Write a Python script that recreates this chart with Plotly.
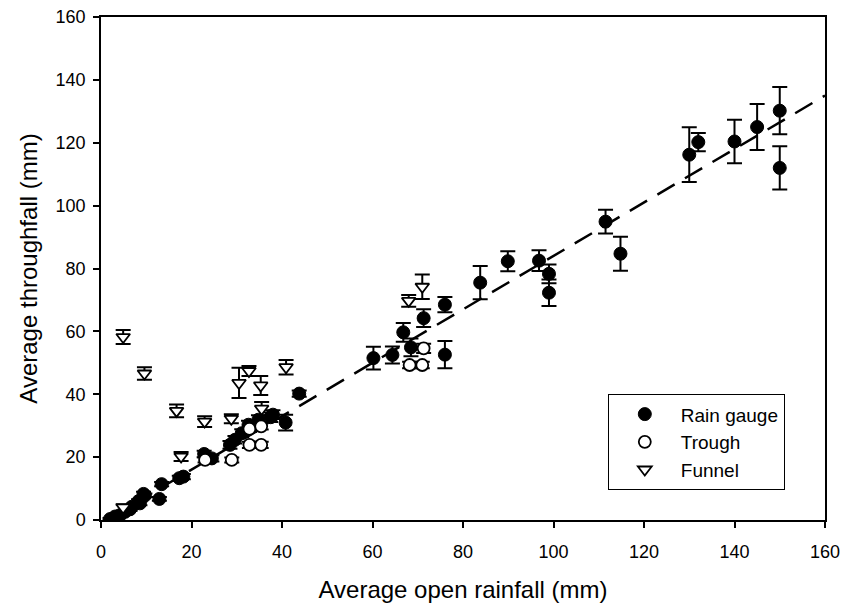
import plotly.graph_objects as go

# Rain gauge: open rainfall (mm), throughfall (mm), error (mm)
gauge_x = [2.0, 3.1, 4.2, 5.3, 6.4, 6.8, 8.3, 8.6, 9.4, 9.7, 12.9, 13.4, 17.3, 18.2,
           22.8, 24.5, 28.5, 29.6, 31.1, 32.6, 34.8, 37.5, 38.0, 40.8, 43.8,
           60.2, 64.4, 66.8, 68.5, 71.3, 76.0, 76.0, 83.8, 89.9, 96.8, 99.0, 99.0,
           111.5, 114.8, 130.0, 132.0, 140.0, 145.0, 150.0, 150.0]
gauge_y = [0.3, 1.1, 1.5, 2.6, 3.4, 4.2, 6.0, 5.3, 8.3, 7.8, 6.7, 11.4, 13.3, 13.8,
           21.0, 19.6, 23.9, 25.5, 27.6, 30.3, 31.9, 32.7, 33.5, 31.0, 40.2,
           51.5, 52.5, 59.7, 54.9, 64.2, 68.5, 52.6, 75.5, 82.3, 82.5, 78.3, 72.3,
           94.9, 84.7, 116.2, 120.2, 120.4, 125.0, 130.2, 112.0]
gauge_err = [0.3, 0.4, 0.4, 0.4, 0.5, 0.5, 0.6, 0.6, 0.7, 0.6, 0.6, 0.7, 0.8, 0.8,
             1.0, 1.0, 1.2, 1.2, 1.3, 1.3, 1.4, 1.5, 1.4, 2.5, 1.0,
             3.6, 2.7, 3.0, 2.8, 2.8, 2.4, 4.3, 5.3, 3.2, 3.3, 3.0, 4.2,
             3.8, 5.4, 8.7, 2.9, 6.9, 7.3, 7.5, 6.9]

# Trough
trough_x = [23.0, 28.9, 32.8, 32.8, 35.4, 35.4, 68.2, 71.0, 71.3]
trough_y = [19.1, 19.1, 29.0, 23.9, 23.9, 29.8, 49.3, 49.3, 54.6]
trough_err = [0.8, 0.8, 1.0, 1.0, 1.0, 1.0, 1.0, 1.0, 1.5]

# Funnel
funnel_x = [4.9, 4.9, 9.6, 16.7, 17.7, 22.9, 28.8, 30.5, 32.7, 35.3, 35.5, 40.9, 68.0, 71.0]
funnel_y = [4.0, 58.2, 46.6, 34.7, 20.2, 31.3, 32.2, 43.6, 47.4, 42.8, 35.4, 48.6, 69.7, 74.2]
funnel_err = [1.0, 2.2, 2.0, 2.0, 1.4, 1.7, 1.4, 4.8, 1.6, 3.0, 2.1, 2.3, 1.9, 3.9]

# Regression line through the rain gauge data
fit_slope = 0.85
fit_intercept = -1.0
fit_x = [-fit_intercept / fit_slope, 160.0]
fit_y = [fit_slope * v + fit_intercept for v in fit_x]

FONT = "Liberation Sans, Arial, sans-serif"

def err(vals):
    return dict(type="data", array=vals, visible=True, color="black",
                thickness=2, width=7.5)

fig = go.Figure()

fig.add_trace(go.Scatter(
    x=fit_x, y=fit_y, mode="lines", showlegend=False, hoverinfo="skip",
    line=dict(color="black", width=2.5, dash="20px,12px"),
))

fig.add_trace(go.Scatter(
    x=gauge_x, y=gauge_y, mode="markers", name="Rain gauge",
    error_y=err(gauge_err),
    marker=dict(symbol="circle", size=13, color="black",
                line=dict(color="black", width=1)),
))

fig.add_trace(go.Scatter(
    x=trough_x, y=trough_y, mode="markers", name="Trough",
    error_y=err(trough_err),
    marker=dict(symbol="circle", size=12, color="white",
                line=dict(color="black", width=1.8)),
))

fig.add_trace(go.Scatter(
    x=funnel_x, y=funnel_y, mode="markers", name="Funnel",
    error_y=err(funnel_err),
    marker=dict(symbol="triangle-down", size=12, color="white",
                line=dict(color="black", width=1.8)),
))

axis_common = dict(
    showgrid=False, zeroline=False, showline=True, mirror=True,
    linecolor="black", linewidth=1.5, ticks="outside", ticklen=6,
    tickwidth=1.5, tickcolor="black", automargin=False,
    tickfont=dict(family=FONT, size=18, color="black"),
    range=[0, 160], dtick=20, tick0=0,
)

fig.update_layout(
    width=841, height=608,
    margin=dict(l=101, r=16, t=17, b=88),
    paper_bgcolor="white", plot_bgcolor="white",
    font=dict(family=FONT, color="black"),
    xaxis=dict(**axis_common, ticklabelstandoff=9,
               title=dict(text="Average open rainfall (mm)",
                          font=dict(family=FONT, size=24), standoff=20)),
    yaxis=dict(**axis_common, ticklabelstandoff=4,
               title=dict(text="Average throughfall (mm)",
                          font=dict(family=FONT, size=24), standoff=11)),
    legend=dict(
        x=0.70, y=0.25, xanchor="left", yanchor="top",
        bgcolor="white", bordercolor="black", borderwidth=1,
        font=dict(family=FONT, size=19, color="black"),
        itemwidth=62,
    ),
)

fig.write_html("out.html")
